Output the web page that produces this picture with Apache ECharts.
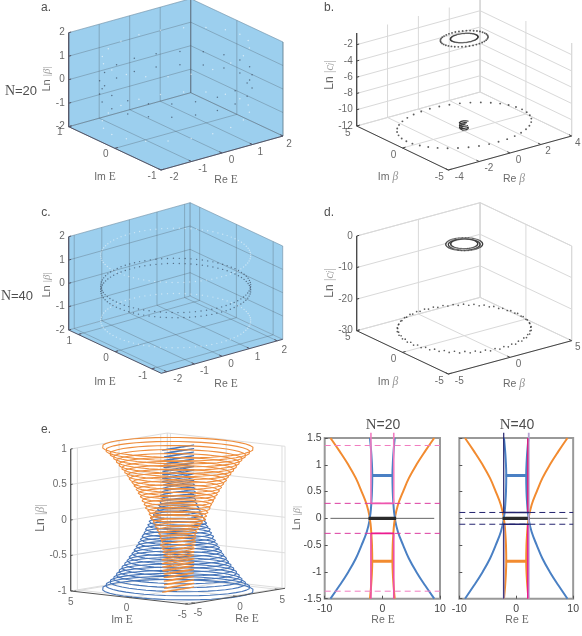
<!DOCTYPE html>
<html><head><meta charset="utf-8">
<style>html,body{margin:0;padding:0;background:#fff}#c{width:582px;height:636px}</style>
<script src="https://cdn.jsdelivr.net/npm/echarts@6/dist/echarts.min.js"></script>
</head><body><div id="c"></div>
<script>
// ---------- values ----------
const unitQuarter=[1,.997,.988,.972,.951,.924,.891,.853,.809,.760,.707,.649,.588,.522,.454,.383,.309,.233,.156,.078,0];

const aReTicks=[-2,-1,0,1,2], aImTicks=[-1,0,1], aZTicks=[-2,-1,0,1,2];
const aLightLn=[1.37,-1.37], aLightRe=[2.1,2.1], aLightIm=[.8,.8];
const aDarkLn=[.28,-.28],   aDarkRe=[2.1,2.1],  aDarkIm=[.9,.9];

const cReTicks=[-2,-1,0,1,2], cImTicks=[-1,0,1], cZTicks=[-2,-1,0,1,2];
const cLightLn=[1.4,-1.4], cLightRe=[2.15,2.15], cLightIm=[1.25,1.25];
const cDarkLn=[.11,-.11],  cDarkRe=[2.15,2.15],  cDarkIm=[1.25,1.25];

const bReTicks=[-4,-2,0,2,4], bImTicks=[-5,0,5], bZTicks=[-12,-10,-8,-6,-4,-2];
const bRingLn=[-.65,-.56,-11.3], bRingR=[1.33,.77,3.75];
const bCoreLn=[-10.95,-11.2,-11.45,-11.7], bCoreR=[.28,.3,.3,.25];

const dReTicks=[-5,0,5], dImTicks=[-5,0,5], dZTicks=[-30,-20,-10,0];
const dTopLn=[-1,-1.1,-.9], dTopR=[1.2,1.03,.88];
const dLowLn=[-27.5,-27.9], dLowR=[4.33,4.37];

const eReTicks=[-5,0,5], eImTicks=[-5,0,5], eZTicks=[-1,-.5,0,.5,1];
const eLn=[1,.95,.9,.85,.8,.75,.7,.65,.6,.55,.5,.45,.4,.35,.3,.25,.2,.15,.1,.05,0];
const eWideR=[5.45,5.2,4.9,4.65,4.45,4.25,4.05,3.85,3.65,3.5,3.3,3.15,3,2.85,2.7,2.6,2.45,2.35,2.2,2.1,2];
const eNarrowRe=[1.95,1.95,1.95,1.95,1.95,1.95,1.95,1.95,1.95,1.95,1.96,1.97,1.98,1.99,2,2,2,2,2,2,2];
const eNarrowIm=[.08,.1,.11,.13,.15,.17,.2,.23,.27,.32,.38,.45,.55,.65,.75,.9,1.05,1.25,1.45,1.7,2];

const wideLn=[0,.25,.5,.75,1,1.25,1.5], wideRe=[2.15,2.7,3.6,4.6,5.9,7.4,9];
const narrowLn=[0,.1,.3,.5,.8,1.1,1.3,1.5], narrowRe=[2.2,2.05,1.9,1.8,1.75,1.85,1.98,2.15];
const n20Zero=[.28,1.36], n40Zero=[.11];

// ---------- helpers ----------
const SANS='"Liberation Sans",Arial,sans-serif', SERIF='"Liberation Serif",serif';
function unitCos(i){i=((i%80)+80)%80;const q=i%40;const v=q<=20?unitQuarter[q]:-unitQuarter[40-q];return i<40?v:-v;}
function unitSin(i){return unitCos(i-20);}
const series=[];
function lineS(data,color,width,extra){
  series.push(Object.assign({type:'line',xAxisIndex:0,yAxisIndex:0,data,symbol:'none',silent:true,clip:false,
    lineStyle:{color,width,type:(extra&&extra.dash)||'solid',cap:'butt'},z:(extra&&extra.z)||2},extra||{}));
}
function dots(data,color,size,z){
  series.push({type:'scatter',xAxisIndex:0,yAxisIndex:0,data,symbol:'circle',symbolSize:size,silent:true,clip:false,
    itemStyle:{color},z:z||3});
}
function richFor(sz,col){
  const g=col==='#222'?'#222':'#777';
  return {s:{fontFamily:SANS,fontSize:sz,color:col},e:{fontFamily:SERIF,fontSize:sz+1,color:col},
    g:{fontFamily:SERIF,fontStyle:'italic',fontSize:sz+1,color:g},
    l:{fontFamily:SERIF,fontSize:sz,color:'#888'},
    li:{fontFamily:SERIF,fontStyle:'italic',fontSize:sz,color:'#888'},
    j:{fontFamily:SERIF,fontStyle:'italic',fontSize:sz-3,color:'#888'}};
}
const texts=[];
function text(x,y,str,sz,col,rot){
  texts.push({value:[x,y],label:{show:true,position:'inside',formatter:str,rotate:rot||0,align:'center',verticalAlign:'middle',
    rich:richFor(sz,col||'#444'),color:col||'#444',fontFamily:SANS,fontSize:sz}});
}
function tickLabels(items,opt){
  const n=items.length;
  series.push({type:'scatter',xAxisIndex:0,yAxisIndex:0,symbolSize:1,silent:true,clip:false,itemStyle:{color:'transparent'},z:6,
    data:items.map((d,k)=>{
      const o0=opt.offset, o1=opt.offsetEnd||o0, f=n>1?k/(n-1):0;
      return {value:d.p,name:String(d.t),label:{offset:[o0[0]+(o1[0]-o0[0])*f,o0[1]+(o1[1]-o0[1])*f]}};
    }),
    label:{show:true,position:'inside',formatter:'{b}',color:'#444',fontFamily:SANS,fontSize:opt.size||10,
      align:opt.align||'center',verticalAlign:'middle'}});
}
function box3d(c){
  const rs=c.re[1]-c.re[0], is=c.im[1]-c.im[0], zs=c.z[1]-c.z[0];
  const P=(re,im,z)=>{
    const a=(re-c.re[0])/rs,b=(c.im[1]-im)/is,h=(z-c.z[0])/zs*c.h;
    return [c.left[0]+a*(c.right[0]-c.front[0])+b*(c.front[0]-c.left[0]),
            c.left[1]+a*(c.right[1]-c.front[1])+b*(c.front[1]-c.left[1])-h];
  };
  const [r0,r1]=c.re,[i0,i1]=c.im,[z0,z1]=c.z;
  if(c.wall){
    const polys=[[P(r0,i1,z0),P(r1,i1,z0),P(r1,i1,z1),P(r0,i1,z1)],[P(r1,i1,z0),P(r1,i0,z0),P(r1,i0,z1),P(r1,i1,z1)],[P(r0,i1,z0),P(r1,i1,z0),P(r1,i0,z0),P(r0,i0,z0)]];
    series.push({type:'custom',xAxisIndex:0,yAxisIndex:0,silent:true,clip:false,z:1,data:polys.map((_,k)=>[k,0]),
      encode:{x:0,y:1},
      renderItem:(p,api)=>({type:'polygon',shape:{points:polys[p.dataIndex].map(q=>api.coord(q))},style:{fill:c.wall,stroke:c.wall,lineWidth:.5}})});
  }
  const G=c.grid, W=c.gridW||1;
  c.reT.forEach(v=>{lineS([P(v,i1,z0),P(v,i1,z1)],G,W);lineS([P(v,i0,z0),P(v,i1,z0)],G,W);});
  c.imT.forEach(v=>{lineS([P(r1,v,z0),P(r1,v,z1)],G,W);lineS([P(r0,v,z0),P(r1,v,z0)],G,W);});
  c.zT.forEach(v=>lineS([P(r0,i1,v),P(r1,i1,v),P(r1,i0,v)],G,W));
  lineS([P(r1,i1,z0),P(r1,i1,z1)],G,W+.4);
  lineS([P(r1,i0,z0),P(r1,i0,z1)],G,W);
  if(c.closed) lineS([P(r0,i1,z1),P(r1,i1,z1),P(r1,i0,z1)],G,W);
  // axes and ticks
  const A=c.axis||'#555';
  lineS([P(r0,i1,z0),P(r0,i1,z1)],A,1.3,{z:5});
  lineS([P(r0,i1,z0),P(r0,i0,z0),P(r1,i0,z0)],A,1,{z:5});
  c.reT.forEach(v=>lineS([P(v,i0,z0),P(v,i0+is*.03,z0)],A,1,{z:5}));
  c.imT.forEach(v=>lineS([P(r0,v,z0),P(r0+rs*.025,v,z0)],A,1,{z:5}));
  c.zT.forEach(v=>lineS([P(r0,i1,v),P(r0+rs*.02,i1,v)],A,1,{z:5}));
  tickLabels(c.zT.map(t=>({p:P(r0,i1,t),t})),{align:'right',offset:c.zOff||[-4,0]});
  tickLabels(c.imT.map(t=>({p:P(r0,t,z0),t})),{offset:c.imOff});
  tickLabels(c.reT.map(t=>({p:P(t,i0,z0),t})),{offset:c.reOff,offsetEnd:c.reOffEnd});
  return P;
}
function ringPts(P,ln,a,b,step,start){
  const out=[];
  for(let i=start||0;i<80;i+=step) out.push(P(a*unitCos(i),b*unitSin(i),ln));
  return out;
}

// ---------- panel a ----------
const WALL='#9CCFEE', GRIDB='rgba(70,80,90,0.3)';
const Pa=box3d({re:[-2,2],im:[-1,1],z:[-2,2],left:[68.7,126.7],front:[161,170],right:[283,136],h:94,wall:WALL,grid:GRIDB,
  reT:aReTicks,imT:aImTicks,zT:aZTicks,imOff:[-9,6],reOff:[13,7],reOffEnd:[6,8],axis:'#556'});
aLightLn.forEach((l,k)=>dots(ringPts(Pa,l,aLightRe[k],aLightIm[k],4),'rgba(255,255,255,.75)',1.5));
aDarkLn.forEach((l,k)=>dots(ringPts(Pa,l,aDarkRe[k],aDarkIm[k],4),'rgba(40,50,70,.75)',1.5));
// ---------- panel c ----------
const Pc=box3d({re:[-2.2,2.2],im:[-1.26,1.26],z:[-2,2],left:[68.7,330],front:[161.3,373.3],right:[282.7,339.3],h:93.3,wall:WALL,grid:GRIDB,
  reT:cReTicks,imT:cImTicks,zT:cZTicks,imOff:[-9,7],reOff:[11,7],reOffEnd:[7,9],axis:'#556'});
cLightLn.forEach((l,k)=>dots(ringPts(Pc,l,cLightRe[k],cLightIm[k],1),'rgba(255,255,255,.6)',1.4));
cDarkLn.forEach((l,k)=>dots(ringPts(Pc,l,cDarkRe[k],cDarkIm[k],1),'rgba(40,50,70,.75)',1.4));
// ---------- panel b ----------
const GRAY='#d9d9d9';
const Pb=box3d({re:[-4,4],im:[-5,5],z:[-12,-.56],left:[356.7,126],front:[448.3,170],right:[571.7,136],h:93,grid:GRAY,
  reT:bReTicks,imT:bImTicks,zT:bZTicks,imOff:[-9,7],reOff:[11,7],reOffEnd:[6,7],axis:'#444'});
bRingLn.forEach((l,k)=>dots(ringPts(Pb,l,bRingR[k],bRingR[k],k===1?1:2),'#333',k===1?1.5:1.9));
bCoreLn.forEach((l,k)=>lineS(ringPts(Pb,l,bCoreR[k],bCoreR[k],3,k*6).slice(0,20),'#333',1.2,{z:4}));
// ---------- panel d ----------
const Pd=box3d({re:[-5,5],im:[-5,5],z:[-30,0],left:[356.7,330.7],front:[448.3,374],right:[571.7,340.7],h:94.7,grid:GRAY,closed:true,
  reT:dReTicks,imT:dImTicks,zT:dZTicks,imOff:[-9,7],reOff:[11,7],reOffEnd:[6,7],axis:'#444'});
dTopLn.forEach((l,k)=>dots(ringPts(Pd,l,dTopR[k],dTopR[k],1),'#333',1.35));
dLowLn.forEach((l,k)=>dots(ringPts(Pd,l,dLowR[k],dLowR[k],2,k),'#333',1.7));
// ---------- panel e ----------
const Pe=box3d({re:[-5.8,5.8],im:[-5.27,5.27],z:[-1,1],left:[70.7,591],front:[188.3,604.3],right:[285,588.3],h:142,grid:'#dedede',
  reT:eReTicks,imT:eImTicks,zT:eZTicks,imOff:[-3,11],reOff:[3,10],reOffEnd:[4,11],axis:'#555'});
const BLUE='#4574B8', ORANGE='#EE8D3C';
function ringLine(P,l,a,b,col){const r=ringPts(P,l,a,b,2);r.push(r[0]);lineS(r,col,1.1,{z:3});}
eLn.forEach((l,k)=>{ringLine(Pe,l,eNarrowRe[k],eNarrowIm[k],BLUE);ringLine(Pe,-l,eWideR[k],eWideR[k],BLUE);});
eLn.forEach((l,k)=>{ringLine(Pe,-l,eNarrowRe[k],eNarrowIm[k],ORANGE);ringLine(Pe,l,eWideR[k],eWideR[k],ORANGE);});

// ---------- right-hand 2-D plots ----------
function plotLine(ax,data,color,width,extra){
  series.push(Object.assign({type:'line',xAxisIndex:ax,yAxisIndex:ax,data,symbol:'none',silent:true,z:3,
    lineStyle:{color,width,type:(extra&&extra.dash)||'solid',cap:'butt'}},extra||{}));
}
const O2='#F28B30', B2='#4A80C4';
[1,2].forEach(ax=>{
  [1,-1].forEach(s=>{
    plotLine(ax,wideLn.map((l,i)=>[s*wideRe[i],l]),O2,2,{smooth:.4});
    plotLine(ax,wideLn.map((l,i)=>[s*wideRe[i],-l]),B2,2,{smooth:.4});
    plotLine(ax,narrowLn.map((l,i)=>[s*narrowRe[i],l]),B2,2,{smooth:.4});
    plotLine(ax,narrowLn.map((l,i)=>[s*narrowRe[i],-l]),O2,2,{smooth:.4});
  });
  plotLine(ax,[[-1.85,.8],[1.85,.8]],B2,3,{z:4});
  plotLine(ax,[[-1.85,-.8],[1.85,-.8]],O2,3,{z:4});
  plotLine(ax,[[-9,0],[9,0]],'#666',1,{z:4});
  plotLine(ax,[[-2.4,0],[2.4,0]],'#2b2b2b',3.2,{z:5});
});
const LP='#F27CC0', MG='#EC1A8F', DM='#DC3AA0', NV='#23236E', VI='#B3A4D2';
// N=20
[-1,1].forEach(s=>{
  plotLine(1,[[s*1.98,n20Zero[0]],[s*1.98,1.6]],LP,1.6,{clip:false,z:6});
  plotLine(1,[[s*1.98,-n20Zero[0]],[s*1.98,-1.5]],MG,1.4,{z:6,lineStyle:{color:'#EE4FA8',width:1.6}});
});
plotLine(1,[[-10,n20Zero[1]],[10,n20Zero[1]]],LP,1,{dash:[6,4],z:6});
plotLine(1,[[-10,-n20Zero[1]],[10,-n20Zero[1]]],LP,1,{dash:[6,4],z:6});
plotLine(1,[[-10,n20Zero[0]],[10,n20Zero[0]]],DM,1,{dash:[6,4],z:6});
plotLine(1,[[-10,-n20Zero[0]],[10,-n20Zero[0]]],DM,1,{dash:[6,4],z:6});
plotLine(1,[[-2,n20Zero[0]],[2,n20Zero[0]]],'#EE55AE',1.6,{z:6});
plotLine(1,[[-2,-n20Zero[0]],[2,-n20Zero[0]]],MG,1.6,{z:6});
// N=40
plotLine(2,[[2.2,-1.5],[2.2,1.6]],VI,1.8,{clip:false,z:5});
plotLine(2,[[-2.2,-1.5],[-2.2,-n40Zero[0]]],VI,1.8,{z:5});
plotLine(2,[[-2.2,n40Zero[0]],[-2.2,1.6]],NV,1.2,{clip:false,z:6});
plotLine(2,[[-2.2,-n40Zero[0]],[-2.2,-1.5]],NV,1,{z:6});
plotLine(2,[[2.02,n40Zero[0]],[2.02,1.5]],'#D8207F',1.4,{z:6});
plotLine(2,[[2.02,-n40Zero[0]],[2.02,-1.5]],MG,1.4,{z:6});
plotLine(2,[[-10,n40Zero[0]],[10,n40Zero[0]]],NV,1,{dash:[6,4],z:6});
plotLine(2,[[-10,-n40Zero[0]],[10,-n40Zero[0]]],NV,1,{dash:[6,4],z:6});
plotLine(2,[[-2.3,n40Zero[0]],[2.3,n40Zero[0]]],NV,1.5,{z:6});
plotLine(2,[[-2.3,-n40Zero[0]],[2.3,-n40Zero[0]]],NV,1.5,{z:6});

// ---------- text ----------
const LNB='{s|Ln} {l||}{li|β}{l||}', LNC='{s|Ln} {l||}{li|c}{j|j}{l||}';
text(46,8,'a.',12,'#222'); text(329,8,'b.',12,'#222'); text(46,213,'c.',12,'#222'); text(329,213,'d.',12,'#222'); text(46,430,'e.',12,'#222');
text(21,91,'{e|N}{s|=20}',13,'#222'); text(17,296,'{e|N}{s|=40}',13,'#222');
text(47,79,LNB,11,'#444',90); text(47,285,LNB,11,'#444',90);
text(105,177,'{s|Im} {e|E}',10.5); text(226,180,'{s|Re} {e|E}',10.5);
text(105,382,'{s|Im} {e|E}',10.5); text(226,384,'{s|Re} {e|E}',10.5);
text(330,75,LNC,12,'#444',90); text(330,283,LNC,12,'#444',90);
text(388,177,'{s|Im} {g|β}',10.5); text(514,179,'{s|Re} {g|β}',10.5);
text(388,382,'{s|Im} {g|β}',10.5); text(514,384,'{s|Re} {g|β}',10.5);
text(41,518,LNB,12,'#444',90);
text(122,620,'{s|Im} {e|E}',10.5); text(247,619,'{s|Re} {e|E}',10.5);
text(297,518,LNB,10.5,'#444',90);
text(383,620,'{s|Re} {e|E}',10.5); text(517,620,'{s|Re} {e|E}',10.5);
text(383,425,'{e|N}{s|=20}',14,'#222'); text(517,425,'{e|N}{s|=40}',14,'#222');
series.push({type:'scatter',xAxisIndex:0,yAxisIndex:0,symbolSize:1,silent:true,clip:false,itemStyle:{color:'transparent'},z:7,data:texts});

// ---------- chart ----------
function xA(gi){return {type:'value',gridIndex:gi,min:-10,max:10,interval:10,splitLine:{show:false},axisLine:{show:false,onZero:false},
  axisTick:{inside:true,length:3,lineStyle:{color:'#555'}},axisLabel:{color:'#444',fontFamily:SANS,fontSize:10.5,margin:5,showMinLabel:true,showMaxLabel:true}};}
function yA(gi,lab){return {type:'value',gridIndex:gi,min:-1.5,max:1.5,interval:.5,splitLine:{show:false},axisLine:{show:false,onZero:false},
  axisTick:{inside:true,length:3,lineStyle:{color:'#555'}},axisLabel:{show:lab,color:'#444',fontFamily:SANS,fontSize:10.5,margin:3}};}
const chart=echarts.init(document.getElementById('c'),null,{renderer:'canvas'});
chart.setOption({animation:false,backgroundColor:'#fff',
  grid:[{left:0,top:0,width:582,height:636,containLabel:false},
    {left:324.7,top:438,width:115.3,height:160.7,show:true,borderColor:'#999',borderWidth:2,backgroundColor:'transparent'},
    {left:459.3,top:438,width:115.3,height:160.7,show:true,borderColor:'#999',borderWidth:2,backgroundColor:'transparent'}],
  xAxis:[{type:'value',gridIndex:0,min:0,max:582,show:false},xA(1),xA(2)],
  yAxis:[{type:'value',gridIndex:0,min:0,max:636,inverse:true,show:false},yA(1,true),yA(2,false)],
  series});
</script></body></html>
